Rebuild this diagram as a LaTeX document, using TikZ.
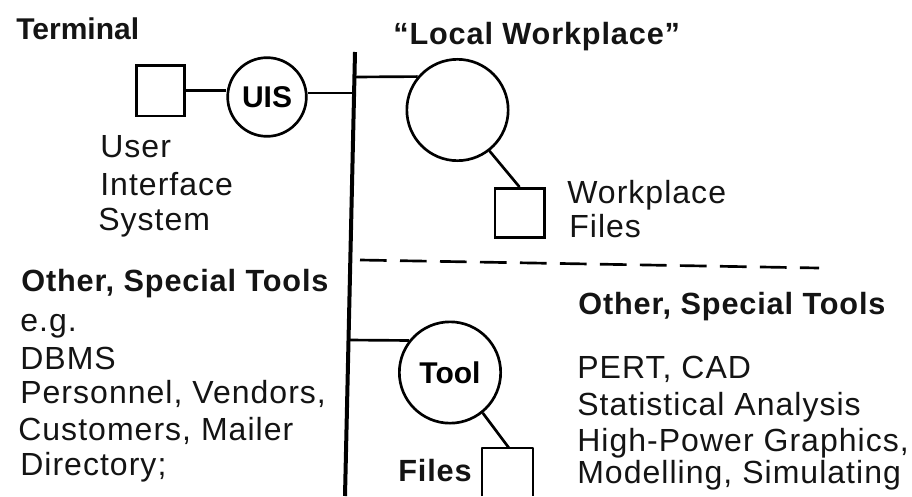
\documentclass[tikz,border=0pt]{standalone}
\usepackage{fontspec}
\setmainfont{Liberation Sans}
\begin{document}
\begin{tikzpicture}[x=0.75pt,y=-0.75pt,line width=2pt,
 lbl/.style={inner sep=0pt,anchor=base west,text=black!92,font=\fontsize{24}{28}\selectfont\addfontfeature{LetterSpace=3.2}},
 blbl/.style={inner sep=0pt,anchor=base west,text=black!92,font=\fontsize{23}{27}\selectfont\bfseries\addfontfeature{LetterSpace=2.8}},
 circ/.style={draw,circle,inner sep=0pt,font=\fontsize{22.5}{27}\selectfont\bfseries},
 sq/.style={draw,rectangle,inner sep=0pt}]
\useasboundingbox (0,0) rectangle (912,496);
\fill[white] (0,0) rectangle (912,496);
\node[blbl,font=\fontsize{22.5}{27}\selectfont\bfseries] (t1) at (15,39) {Terminal};
\node[blbl] (t2) at (392,44) {“Local Workplace”};
\node[sq,minimum width=36pt,minimum height=38pt] (term) at (160.5,90.5) {};
\node[circ,minimum size=59pt] (uis) at (267,97) {UIS};
\node[lbl] (u1) at (99,157) {User};
\node[lbl] (u2) at (99,195) {Interface};
\node[lbl] (u3) at (97,230) {System};
\coordinate (bus1) at (355,52);
\coordinate (bus2) at (345,496);
\draw[line width=3pt] (bus1) -- (bus2);
\draw (term.east) -- (uis.west |- term.east);
\coordinate (j1) at (354,93);
\draw (uis.east |- j1) -- (j1);
\node[draw,circle,minimum size=76pt,inner sep=0pt] (lw) at (457.5,110) {};
\coordinate (j2) at (354.4,77);
\draw (j2) -- (lw.140);
\node[sq,minimum width=37pt,minimum height=37pt] (wf) at (519.5,213) {};
\draw (lw.-52) -- (wf.north);
\node[lbl] (w1) at (566,203) {Workplace};
\node[lbl] (w2) at (568,237) {Files};
\coordinate (d1) at (360,260);
\coordinate (d2) at (819,268);
\draw[dash pattern=on 20pt off 10pt] (d1) -- (d2);
\node[blbl] (o1) at (20,291) {Other, Special Tools};
\node[blbl] (o2) at (577,314) {Other, Special Tools};
\node[lbl] (e1) at (19,331) {e.g.};
\node[lbl] (e2) at (19,369) {DBMS};
\node[lbl] (e3) at (19,403) {Personnel, Vendors,};
\node[lbl] (e4) at (17,440) {Customers, Mailer};
\node[lbl] (e5) at (19,475) {Directory;};
\node[circ,minimum size=76pt] (tool) at (450,372.5) {Tool};
\coordinate (j3) at (348.5,340);
\draw (j3) -- (tool.142);
\coordinate (fb1) at (482,496);
\coordinate (fb2) at (482,448);
\coordinate (fb3) at (533,448);
\coordinate (fb4) at (533,496);
\coordinate (fbt) at (509,448);
\draw[line join=round] (fb1) -- (fb2) -- (fb3) -- (fb4);
\draw (tool.-51) -- (fbt);
\node[blbl] (f1) at (397,481) {Files};
\node[lbl] (p1) at (576,378) {PERT, CAD};
\node[lbl] (p2) at (576,415) {Statistical Analysis};
\node[lbl] (p3) at (576,451) {High-Power Graphics,};
\node[lbl] (p4) at (576,483) {Modelling, Simulating};
\end{tikzpicture}
\end{document}
